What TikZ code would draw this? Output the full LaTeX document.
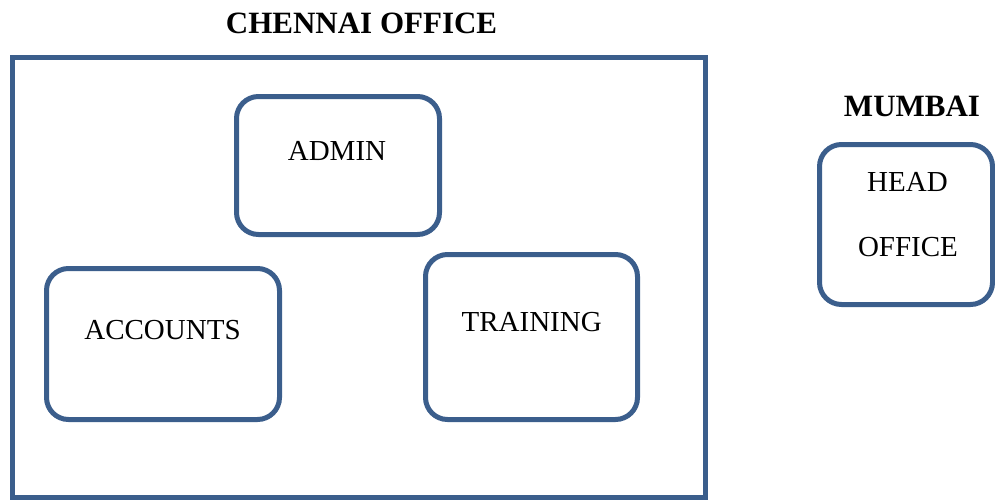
\documentclass[tikz,border=0pt]{standalone}
\usepackage{fontspec}
\setmainfont{Liberation Serif}
\definecolor{boxblue}{RGB}{59,94,140}
\begin{document}
\begin{tikzpicture}[x=1pt,y=-1pt,
  frame/.style={draw=boxblue,line width=5pt},
  dept/.style={draw=boxblue,line width=5pt,rounded corners=22pt},
  lbl/.style={inner sep=0pt,font=\fontsize{29}{35}\selectfont},
  ttl/.style={inner sep=0pt,font=\fontsize{31}{37}\selectfont\bfseries}]
\useasboundingbox (0,0) rectangle (995,499);
% outer office frame
\draw[frame] (12,57) rectangle (705,497);
% department boxes
\draw[dept] (236.5,96.5) rectangle (439.5,234.5);
\draw[dept] (46.5,268.5) rectangle (279.5,419.5);
\draw[dept] (425.5,254.5) rectangle (637.5,419.5);
\draw[dept] (819.5,144.5) rectangle (992.5,304.5);
% titles
\node[ttl] (chennai) at (361.5,23) {CHENNAI OFFICE};
\node[ttl] (mumbai) at (912,106.5) {MUMBAI};
% labels
\node[lbl] (admin) at (337,151) {ADMIN};
\node[lbl] (accounts) at (162.5,330) {ACCOUNTS};
\node[lbl] (training) at (531.7,322) {TRAINING};
\node[lbl] (head) at (907.5,182) {HEAD};
\node[lbl] (office) at (908,247) {OFFICE};
\end{tikzpicture}
\end{document}
